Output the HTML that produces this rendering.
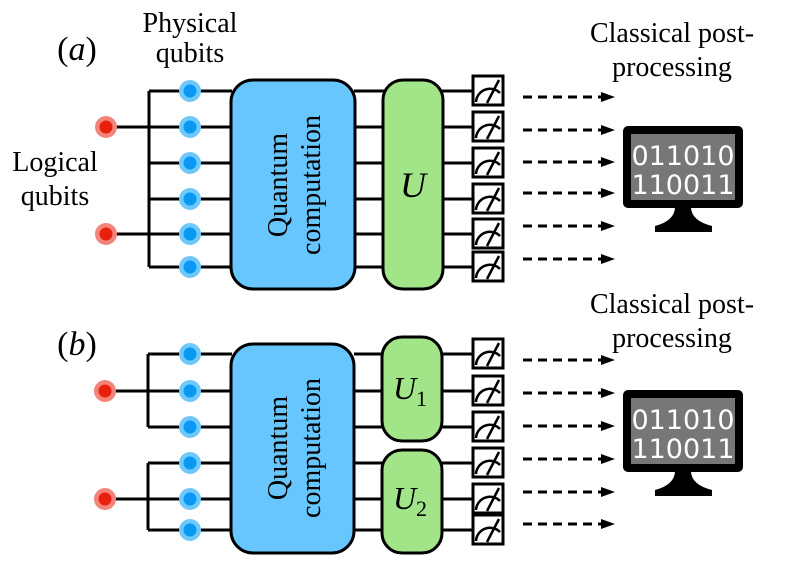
<!DOCTYPE html>
<html><head><style>body{margin:0;background:#fff}svg{display:block}</style></head><body>
<svg width="789" height="566" viewBox="0 0 789 566" xmlns="http://www.w3.org/2000/svg" font-family="Liberation Serif, serif">
<defs>
<g id="meter"><rect x="-15" y="-15" width="30" height="29" fill="#fff" stroke="#000" stroke-width="3"/><path d="M-12,11 A14,14 0 0 1 12,2" fill="none" stroke="#000" stroke-width="2.5"/><line x1="-1" y1="12" x2="11" y2="-11" stroke="#000" stroke-width="2.5"/></g>
<g id="arrow"><line x1="0" y1="0" x2="80" y2="0" stroke="#000" stroke-width="3" stroke-dasharray="9,6"/><path d="M78,-5 L92,0 L78,5 Z" fill="#000"/></g>
<g id="blue"><circle r="11" fill="#6ec8fb"/><circle r="6.5" fill="#0a98f0"/></g>
<g id="red"><circle r="11" fill="#f3847a"/><circle r="6.5" fill="#e8200e"/></g>
<g id="mon"><rect x="623" y="0" width="120" height="82" rx="5" fill="#000"/><rect x="631" y="8" width="104" height="66" fill="#777"/><path d="M675,82 L691,82 Q692,95 712,100 L712,106 L655,106 L655,100 Q674,95 675,82 Z" fill="#000"/>
<text x="683" y="39" font-family="DejaVu Sans, sans-serif" font-size="27" fill="#fff" text-anchor="middle">011010</text><text x="683" y="68" font-family="DejaVu Sans, sans-serif" font-size="27" fill="#fff" text-anchor="middle">110011</text></g>
</defs>
<g font-size="28" fill="#000" text-anchor="middle">
<text x="77" y="60" font-size="34">(<tspan font-style="italic">a</tspan>)</text>
<text x="77" y="355" font-size="34">(<tspan font-style="italic">b</tspan>)</text>
<text x="190" y="32">Physical</text><text x="190" y="62">qubits</text>
<text x="55" y="171">Logical</text><text x="55" y="205">qubits</text>
<text x="672" y="42">Classical post-</text><text x="672" y="76">processing</text>
<text x="672" y="313">Classical post-</text><text x="672" y="347">processing</text>
</g>
<!-- (a) -->
<g stroke="#000" stroke-width="3" fill="none">
<line x1="149" y1="91" x2="149" y2="267"/>
<line x1="106" y1="127" x2="149" y2="127"/><line x1="106" y1="234" x2="149" y2="234"/>
<line x1="149" y1="91" x2="232" y2="91"/><line x1="149" y1="127" x2="232" y2="127"/><line x1="149" y1="163" x2="232" y2="163"/><line x1="149" y1="199" x2="232" y2="199"/><line x1="149" y1="234" x2="232" y2="234"/><line x1="149" y1="267" x2="232" y2="267"/>
<line x1="354" y1="91" x2="474" y2="91"/><line x1="354" y1="127" x2="474" y2="127"/><line x1="354" y1="163" x2="474" y2="163"/><line x1="354" y1="199" x2="474" y2="199"/><line x1="354" y1="234" x2="474" y2="234"/><line x1="354" y1="267" x2="474" y2="267"/>
</g>
<rect x="231" y="80" width="124" height="209" rx="22" fill="#66c6fd" stroke="#000" stroke-width="3"/>
<rect x="383" y="80" width="60" height="209" rx="20" fill="#a1e588" stroke="#000" stroke-width="3"/>
<text transform="translate(293,185) rotate(-90)" font-size="28" text-anchor="middle"><tspan x="0" y="-6">Quantum</tspan><tspan x="0" y="27">computation</tspan></text>
<text x="413" y="197" font-size="36" font-style="italic" text-anchor="middle">U</text>
<use href="#red" x="106" y="127"/><use href="#red" x="106" y="234"/>
<use href="#blue" x="190" y="91"/><use href="#blue" x="190" y="127"/><use href="#blue" x="190" y="163"/><use href="#blue" x="190" y="199"/><use href="#blue" x="190" y="234"/><use href="#blue" x="190" y="267"/>
<use href="#meter" x="488" y="91"/><use href="#meter" x="488" y="127"/><use href="#meter" x="488" y="163"/><use href="#meter" x="488" y="199"/><use href="#meter" x="488" y="234"/><use href="#meter" x="488" y="267"/>
<use href="#arrow" x="523" y="97"/><use href="#arrow" x="523" y="130"/><use href="#arrow" x="523" y="162"/><use href="#arrow" x="523" y="193"/><use href="#arrow" x="523" y="226"/><use href="#arrow" x="523" y="259"/>
<use href="#mon" x="0" y="126"/>
<!-- (b) -->
<g stroke="#000" stroke-width="3" fill="none">
<line x1="148" y1="354" x2="148" y2="427"/><line x1="148" y1="463" x2="148" y2="530"/>
<line x1="105" y1="391" x2="148" y2="391"/><line x1="105" y1="499" x2="148" y2="499"/>
<line x1="148" y1="354" x2="232" y2="354"/><line x1="148" y1="391" x2="232" y2="391"/><line x1="148" y1="427" x2="232" y2="427"/><line x1="148" y1="463" x2="232" y2="463"/><line x1="148" y1="499" x2="232" y2="499"/><line x1="148" y1="530" x2="232" y2="530"/>
<line x1="354" y1="354" x2="474" y2="354"/><line x1="354" y1="391" x2="474" y2="391"/><line x1="354" y1="427" x2="474" y2="427"/><line x1="354" y1="463" x2="474" y2="463"/><line x1="354" y1="499" x2="474" y2="499"/><line x1="354" y1="530" x2="474" y2="530"/>
</g>
<rect x="231" y="344" width="123" height="209" rx="22" fill="#66c6fd" stroke="#000" stroke-width="3"/>
<rect x="382" y="337" width="60" height="104" rx="20" fill="#a1e588" stroke="#000" stroke-width="3"/>
<rect x="382" y="450" width="60" height="103" rx="20" fill="#a1e588" stroke="#000" stroke-width="3"/>
<text transform="translate(293,448) rotate(-90)" font-size="28" text-anchor="middle"><tspan x="0" y="-6">Quantum</tspan><tspan x="0" y="27">computation</tspan></text>
<text x="410" y="399" font-size="32" font-style="italic" text-anchor="middle">U<tspan font-style="normal" font-size="22" dy="7">1</tspan></text>
<text x="410" y="509" font-size="32" font-style="italic" text-anchor="middle">U<tspan font-style="normal" font-size="22" dy="7">2</tspan></text>
<use href="#red" x="105" y="391"/><use href="#red" x="105" y="499"/>
<use href="#blue" x="190" y="354"/><use href="#blue" x="190" y="391"/><use href="#blue" x="190" y="427"/><use href="#blue" x="190" y="463"/><use href="#blue" x="190" y="499"/><use href="#blue" x="190" y="530"/>
<use href="#meter" x="488" y="354"/><use href="#meter" x="488" y="391"/><use href="#meter" x="488" y="427"/><use href="#meter" x="488" y="463"/><use href="#meter" x="488" y="499"/><use href="#meter" x="488" y="530"/>
<use href="#arrow" x="523" y="360"/><use href="#arrow" x="523" y="393"/><use href="#arrow" x="523" y="426"/><use href="#arrow" x="523" y="459"/><use href="#arrow" x="523" y="492"/><use href="#arrow" x="523" y="524"/>
<use href="#mon" x="0" y="390"/>
</svg>
</body></html>
